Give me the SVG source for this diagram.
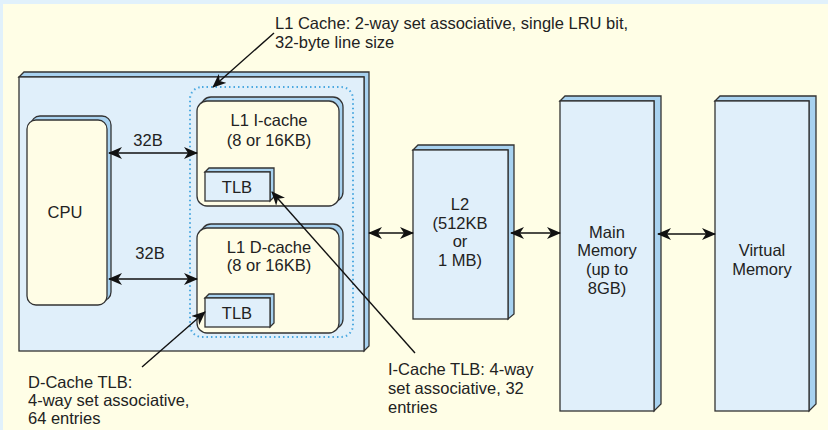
<svg xmlns="http://www.w3.org/2000/svg" width="828" height="430" viewBox="0 0 828 430">
<defs>
<style>
text{font-family:"Liberation Sans",Arial,sans-serif;font-size:16.5px;fill:#222}
.c{text-anchor:middle}
.side{fill:#a8d2f0;stroke:#333;stroke-width:1.3}
.face{fill:#e0effa;stroke:#333;stroke-width:1.3}
.yface{fill:#fffde6;stroke:#333;stroke-width:1.3}
.con{stroke:#111;stroke-width:1.7;fill:none}
.lead{stroke:#111;stroke-width:1.4;fill:none}
</style>
<marker id="ah" viewBox="0 0 14 12" refX="13" refY="6" markerWidth="14" markerHeight="12" markerUnits="userSpaceOnUse" orient="auto-start-reverse">
<path d="M0,0 L14,6 L0,12 L4,6 z" fill="#111"/>
</marker>
</defs>
<rect width="828" height="430" fill="#fffee6"/>
<rect x="0" y="0" width="828" height="4" fill="#e1f1fb"/>
<rect x="0" y="0" width="3" height="430" fill="#e1f1fb"/>

<g id="chip">
<path class="side" d="M19,77 L24,72 L369,72 L369,346 L364,351 L364,77 Z"/>
<rect class="face" x="19" y="77" width="345" height="274"/>
</g>
<g id="l1-group">
<rect x="190" y="87" width="163" height="250" rx="12" fill="none" stroke="#4aa8e0" stroke-width="2" stroke-dasharray="1.5,3"/>
</g>
<g id="cpu">
<rect class="side" x="31" y="116" width="80" height="185" rx="9"/>
<rect class="yface" x="27" y="120" width="80" height="185" rx="9"/>
<text class="c" x="65" y="218">CPU</text>
</g>
<g id="l1-icache">
<rect class="side" x="201" y="97" width="142" height="105" rx="10"/>
<rect class="yface" x="197" y="101" width="142" height="105" rx="10"/>
<text class="c" x="269" y="126">L1 I-cache</text>
<text class="c" x="269" y="146">(8 or 16KB)</text>
</g>
<g id="itlb">
<path class="side" d="M205,172 L209,168 L274,168 L274,197 L270,201 L270,172 Z"/>
<rect class="face" x="205" y="172" width="65" height="29"/>
<text class="c" x="237" y="193">TLB</text>
</g>
<g id="l1-dcache">
<rect class="side" x="201" y="224" width="142" height="105" rx="10"/>
<rect class="yface" x="197" y="228" width="142" height="105" rx="10"/>
<text class="c" x="269" y="253">L1 D-cache</text>
<text class="c" x="269" y="271">(8 or 16KB)</text>
</g>
<g id="dtlb">
<path class="side" d="M205,298 L209,294 L274,294 L274,323 L270,327 L270,298 Z"/>
<rect class="face" x="205" y="298" width="65" height="29"/>
<text class="c" x="237" y="319">TLB</text>
</g>
<g id="l2">
<path class="side" d="M413,150 L418,145 L514,145 L514,314 L508,319 L508,150 Z"/>
<rect class="face" x="413" y="150" width="95" height="169"/>
<text class="c" x="460" y="210">L2</text>
<text class="c" x="460" y="229">(512KB</text>
<text class="c" x="460" y="247">or</text>
<text class="c" x="460" y="266">1 MB)</text>
</g>
<g id="main-memory">
<path class="side" d="M560,101 L565,96 L661,96 L661,404 L654,411 L654,101 Z"/>
<rect class="face" x="560" y="101" width="94" height="310"/>
<text class="c" x="607" y="238">Main</text>
<text class="c" x="607" y="256">Memory</text>
<text class="c" x="607" y="275">(up to</text>
<text class="c" x="607" y="294">8GB)</text>
</g>
<g id="virtual-memory">
<path class="side" d="M715,101 L720,96 L816,96 L816,404 L809,411 L809,101 Z"/>
<rect class="face" x="715" y="101" width="94" height="310"/>
<text class="c" x="762" y="256">Virtual</text>
<text class="c" x="762" y="275">Memory</text>
</g>

<g id="connectors">
<line class="con" x1="109" y1="153" x2="197" y2="153" marker-start="url(#ah)" marker-end="url(#ah)"/>
<line class="con" x1="109" y1="279" x2="197" y2="279" marker-start="url(#ah)" marker-end="url(#ah)"/>
<line class="con" x1="369" y1="233" x2="413" y2="233" marker-start="url(#ah)" marker-end="url(#ah)"/>
<line class="con" x1="511" y1="233" x2="560" y2="233" marker-start="url(#ah)" marker-end="url(#ah)"/>
<line class="con" x1="658" y1="234" x2="715" y2="234" marker-start="url(#ah)" marker-end="url(#ah)"/>
<line class="lead" x1="274" y1="33" x2="213" y2="87" marker-end="url(#ah)"/>
<line class="lead" x1="415" y1="353" x2="272" y2="192" marker-end="url(#ah)"/>
<line class="lead" x1="142" y1="367" x2="205" y2="312" marker-end="url(#ah)"/>
</g>

<g id="labels">
<text class="c" x="148" y="146">32B</text>
<text class="c" x="150" y="259">32B</text>
<text x="275" y="29">L1 Cache: 2-way set associative, single LRU bit,</text>
<text x="275" y="48">32-byte line size</text>
<text x="388" y="375">I-Cache TLB: 4-way</text>
<text x="388" y="394">set associative, 32</text>
<text x="388" y="413">entries</text>
<text x="28" y="388">D-Cache TLB:</text>
<text x="28" y="406">4-way set associative,</text>
<text x="28" y="424">64 entries</text>
</g>
</svg>
